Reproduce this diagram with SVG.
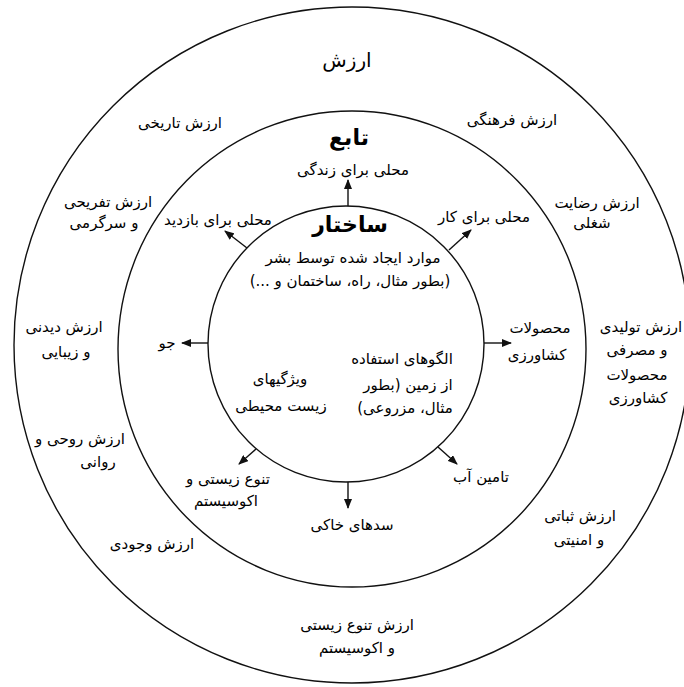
<svg xmlns="http://www.w3.org/2000/svg" width="684" height="687" viewBox="0 0 684 687">
<style>
text { font-family: "DejaVu Sans", "Noto Sans", sans-serif; font-size: 15px; fill: #000; text-anchor: middle; direction: rtl; }
.t { font-size: 22px; font-weight: bold; }
.t0 { font-size: 20px; }
.ring { fill: none; stroke: #111; stroke-width: 1.4; }
.arr { stroke: #111; stroke-width: 1.4; fill: none; marker-end: url(#ah); }
</style>
<defs>
<marker id="ah" markerUnits="userSpaceOnUse" markerWidth="10" markerHeight="8" refX="9" refY="4" orient="auto"><path d="M0,0 L10,4 L0,8 z" fill="#111"/></marker>
</defs>
<rect width="684" height="687" fill="#fff"/>
<g id="outer-ring">
<ellipse class="ring" cx="352" cy="345" rx="338" ry="338"/>
<text class="t0" x="347" y="67">ارزش</text>
<text x="180" y="128">ارزش تاریخی</text>
<text x="512" y="125">ارزش فرهنگی</text>
<text x="108" y="207">ارزش تفریحی</text>
<text x="104" y="228">و سرگرمی</text>
<text x="597" y="208">ارزش رضایت</text>
<text x="592" y="228">شغلی</text>
<text x="64" y="332">ارزش دیدنی</text>
<text x="66" y="357">و زیبایی</text>
<text x="641" y="332">ارزش تولیدی</text>
<text x="637" y="355">و مصرفی</text>
<text x="637" y="380">محصولات</text>
<text x="638" y="403">کشاورزی</text>
<text x="80" y="444">ارزش روحی و</text>
<text x="98" y="467">روانی</text>
<text x="152" y="549">ارزش وجودی</text>
<text x="580" y="521">ارزش ثباتی</text>
<text x="579" y="545">و امنیتی</text>
<text x="357" y="630">ارزش تنوع زیستی</text>
<text x="357" y="653">و اکوسیستم</text>
</g>
<g id="middle-ring">
<ellipse class="ring" cx="352" cy="349" rx="234" ry="238"/>
<text class="t" x="349" y="145">تابع</text>
<text x="353" y="175">محلی برای زندگی</text>
<text x="218" y="225">محلی برای بازدید</text>
<text x="484" y="222">محلی برای کار</text>
<text x="167" y="348">جو</text>
<text x="540" y="333">محصولات</text>
<text x="537" y="360">کشاورزی</text>
<text x="481" y="482">تامین آب</text>
<text x="228" y="484">تنوع زیستی و</text>
<text x="226" y="506">اکوسیستم</text>
<text x="352" y="530">سدهای خاکی</text>
</g>
<g id="inner-ring">
<circle class="ring" cx="346" cy="344" r="138"/>
<text class="t" x="350" y="232">ساختار</text>
<text x="353" y="263">موارد ایجاد شده توسط بشر</text>
<text x="350" y="286">(بطور مثال، راه، ساختمان و ...)</text>
<text x="402" y="364">الگوهای استفاده</text>
<text x="408" y="390">از زمین (بطور</text>
<text x="405" y="413">مثال، مزروعی)</text>
<text x="280" y="384">ویژگیهای</text>
<text x="281" y="411">زیست محیطی</text>
</g>
<g id="connectors">
<line class="arr" x1="348" y1="206" x2="348" y2="180"/>
<line class="arr" x1="247" y1="248" x2="225" y2="231"/>
<line class="arr" x1="449" y1="250" x2="471" y2="230"/>
<line class="arr" x1="208" y1="343" x2="182" y2="343"/>
<line class="arr" x1="484" y1="343" x2="511" y2="343"/>
<line class="arr" x1="438" y1="447" x2="457" y2="464"/>
<line class="arr" x1="348" y1="482" x2="348" y2="508"/>
<line class="arr" x1="256" y1="449" x2="239" y2="464"/>
</g>
</svg>
